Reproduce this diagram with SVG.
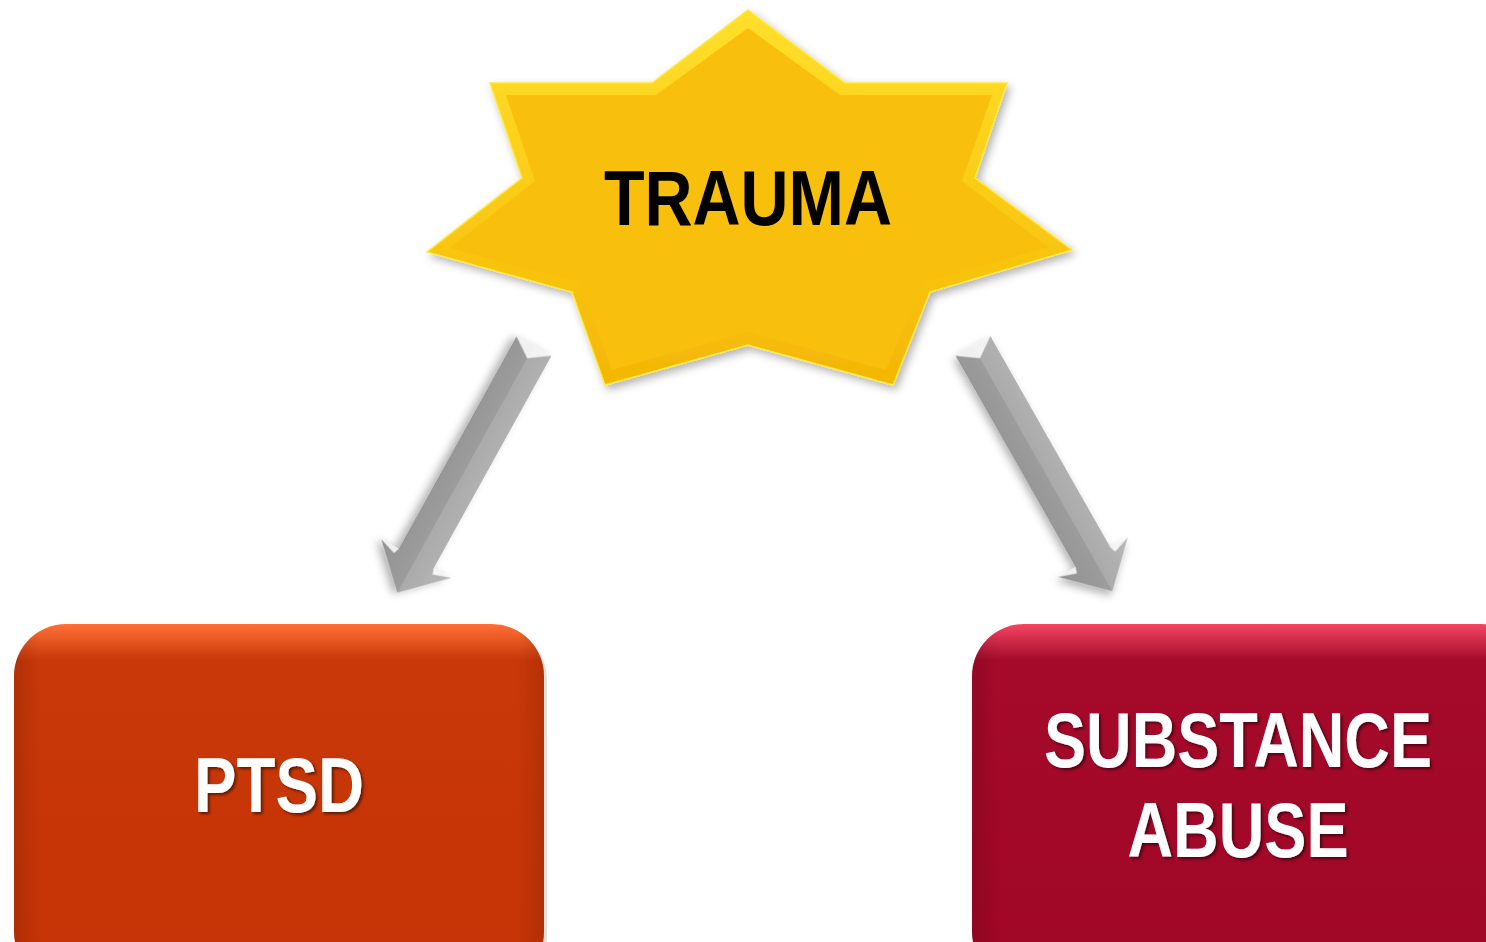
<svg xmlns="http://www.w3.org/2000/svg" width="1486" height="942" viewBox="0 0 1486 942">
  <defs>
    <linearGradient id="starOuter" x1="0" y1="0" x2="0" y2="1">
      <stop offset="0" stop-color="#FFE02C"/>
      <stop offset="0.5" stop-color="#FBCB16"/>
      <stop offset="1" stop-color="#F4B604"/>
    </linearGradient>
    <linearGradient id="ptsdGrad" x1="0" y1="0" x2="0" y2="1">
      <stop offset="0" stop-color="#FF7038"/>
      <stop offset="0.1" stop-color="#C83808"/>
      <stop offset="1" stop-color="#C63306"/>
    </linearGradient>
    <linearGradient id="subGrad" x1="0" y1="0" x2="0" y2="1">
      <stop offset="0" stop-color="#F44664"/>
      <stop offset="0.1" stop-color="#A50A2A"/>
      <stop offset="1" stop-color="#A00625"/>
    </linearGradient>
    <linearGradient id="sideShade" x1="0" y1="0" x2="1" y2="0">
      <stop offset="0" stop-color="#000" stop-opacity="0.12"/>
      <stop offset="0.05" stop-color="#000" stop-opacity="0"/>
      <stop offset="0.95" stop-color="#000" stop-opacity="0"/>
      <stop offset="1" stop-color="#000" stop-opacity="0.1"/>
    </linearGradient>
    <linearGradient id="shaftGrad" x1="0" y1="0" x2="0" y2="1">
      <stop offset="0" stop-color="#B8B8B8"/>
      <stop offset="0.5" stop-color="#AAAAAA"/>
      <stop offset="0.5" stop-color="#9C9C9C"/>
      <stop offset="1" stop-color="#929292"/>
    </linearGradient>
    <filter id="shadow" x="-20%" y="-20%" width="140%" height="140%">
      <feDropShadow dx="3" dy="4" stdDeviation="4" flood-color="#000" flood-opacity="0.3"/>
    </filter>
    <filter id="txtShadow" x="-10%" y="-10%" width="120%" height="130%">
      <feDropShadow dx="2" dy="2" stdDeviation="1.5" flood-color="#000" flood-opacity="0.55"/>
    </filter>
  </defs>
  <style>
    .lbl { font-family: "Liberation Sans", Arial, sans-serif; font-weight: bold; font-size: 78px; text-anchor: middle; }
    .white { fill: #FFFFFF; }
    .black { fill: #000000; }
    .hl { fill: #FFFFFF; opacity: 0.85; }
    .boxshadow { fill: #000000; opacity: 0.12; }
  </style>
  <rect width="1486" height="942" fill="#FFFFFF"/>

  <g id="connectors">
    <g id="arrow-left" transform="translate(534,346) rotate(119)" filter="url(#shadow)">
      <path d="M0,-20 L243,-20 L243,-40 L282,0 L243,40 L243,20 L0,20 Z" fill="url(#shaftGrad)"/>
      <path d="M0,-20 L14,0 L0,20 Z" class="hl"/>
      <path d="M243,-40 L249,-22 L243,-20 Z" class="hl"/>
      <path d="M243,40 L249,22 L243,20 Z" class="hl"/>
    </g>
    <g id="arrow-right" transform="translate(973,346) rotate(60.4)" filter="url(#shadow)">
      <path d="M0,-20 L243,-20 L243,-40 L282,0 L243,40 L243,20 L0,20 Z" fill="url(#shaftGrad)"/>
      <path d="M0,-20 L14,0 L0,20 Z" class="hl"/>
      <path d="M243,-40 L249,-22 L243,-20 Z" class="hl"/>
      <path d="M243,40 L249,22 L243,20 Z" class="hl"/>
    </g>
  </g>

  <g id="node-trauma" filter="url(#shadow)">
    <polygon points="748,10 845,83 1007,83 975,178 1072,250 930,292 893,385 748,345 605,385 572,292 427,252 522,178 490,83 652,83" fill="url(#starOuter)" stroke="#FFE840" stroke-width="1.5" stroke-linejoin="miter"/>
    <polygon points="748,28 840,95 992,95 962,181 1048,247 922,283 886,370 748,332 612,370 580,283 450,248 535,181 506,95 656,95" fill="#F9BF0A"/>
    <text class="lbl black" x="748" y="225" textLength="288" lengthAdjust="spacingAndGlyphs">TRAUMA</text>
  </g>

  <g id="node-ptsd">
    <rect x="17" y="628" width="530" height="360" rx="52" class="boxshadow"/>
    <rect x="14" y="624" width="530" height="360" rx="52" fill="url(#ptsdGrad)"/>
    <rect x="14" y="624" width="530" height="360" rx="52" fill="url(#sideShade)"/>
    <text class="lbl white" x="279" y="812" textLength="170" lengthAdjust="spacingAndGlyphs" filter="url(#txtShadow)">PTSD</text>
  </g>

  <g id="node-substance">
    <rect x="975" y="628" width="560" height="360" rx="52" class="boxshadow"/>
    <rect x="972" y="624" width="560" height="360" rx="52" fill="url(#subGrad)"/>
    <rect x="972" y="624" width="560" height="360" rx="52" fill="url(#sideShade)"/>
    <text class="lbl white" x="1238" y="767" textLength="388" lengthAdjust="spacingAndGlyphs" filter="url(#txtShadow)">SUBSTANCE</text>
    <text class="lbl white" x="1238" y="857" textLength="221" lengthAdjust="spacingAndGlyphs" filter="url(#txtShadow)">ABUSE</text>
  </g>
</svg>
